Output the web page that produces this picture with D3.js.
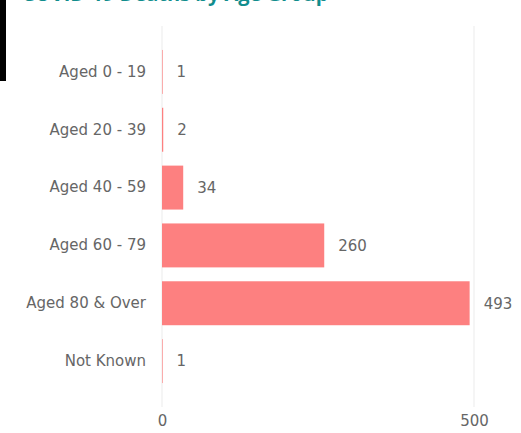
<html>
<body style="margin:0;background:#fff">
<div id="chart"></div>
<script src="https://d3js.org/d3.v7.min.js"></script>
<script>

var ageGroups = ["Aged 0 - 19", "Aged 20 - 39", "Aged 40 - 59", "Aged 60 - 79", "Aged 80 & Over", "Not Known"]
var deaths = [1, 2, 34, 260, 493, 1]
var xTicks = [0, 500]
var title = "COVID-19 Deaths by Age Group"

var barColor = "#fd8080"
var textGrey = "#666666"
var font = "DejaVu Sans"

var data = ageGroups.map(function(g, i){ return {group: g, value: deaths[i]} })

var width = 521, height = 433
var margin = {top: 43, right: 47, bottom: 43, left: 162}

var svg = d3.select("#chart")
  .append("svg")
  .attr("width", width)
  .attr("height", height)

// title, mostly scrolled off the top like in the screenshot
svg.append("text")
  .attr("x", 22)
  .attr("y", 1)
  .attr("fill", "#118d8d")
  .style("font-family", "Open Sans")
  .style("font-weight", "bold")
  .style("font-size", "20px")
  .text(title)

// black edge on the left
svg.append("rect")
  .attr("x", 0).attr("y", 0)
  .attr("width", 6).attr("height", 81)
  .attr("fill", "#000")

var x = d3.scaleLinear()
  .domain([0, 500])
  .range([margin.left, 474])

var y = d3.scaleBand()
  .domain(ageGroups)
  .range([margin.top, height - margin.bottom])
  .paddingInner(0.24)
  .paddingOuter(0.12)

// gridlines
svg.selectAll(".grid")
  .data(xTicks)
  .enter().append("line")
  .attr("class", "grid")
  .attr("x1", d => x(d)).attr("x2", d => x(d))
  .attr("y1", 26).attr("y2", 407)
  .attr("stroke", "#ebebeb")
  .attr("stroke-width", 1)

var xAxis = d3.axisBottom(x).tickValues(xTicks).tickSize(0).tickPadding(0)
var gx = svg.append("g")
  .attr("transform", "translate(0,415)")
  .call(xAxis)
gx.select(".domain").remove()
gx.selectAll("text")
  .attr("dy", "0.71em")
  .attr("fill", textGrey)
  .style("font-family", font)
  .style("font-size", "15px")

var yAxis = d3.axisLeft(y).tickSize(0).tickPadding(16)
var gy = svg.append("g")
  .attr("transform", "translate(" + margin.left + ",0)")
  .call(yAxis)
gy.select(".domain").remove()
gy.selectAll("text")
  .attr("fill", textGrey)
  .style("font-family", font)
  .style("font-size", "15px")

svg.selectAll(".bar")
  .data(data)
  .enter().append("rect")
  .attr("class", "bar")
  .attr("x", x(0))
  .attr("y", d => y(d.group))
  .attr("width", d => x(d.value) - x(0))
  .attr("height", y.bandwidth())
  .attr("fill", barColor)

svg.selectAll(".val")
  .data(data)
  .enter().append("text")
  .attr("class", "val")
  .attr("x", d => x(d.value) + 14)
  .attr("y", d => y(d.group) + y.bandwidth() / 2)
  .attr("dy", "0.35em")
  .attr("fill", textGrey)
  .style("font-family", font)
  .style("font-size", "15px")
  .text(d => d.value)

</script>
</body>
</html>
